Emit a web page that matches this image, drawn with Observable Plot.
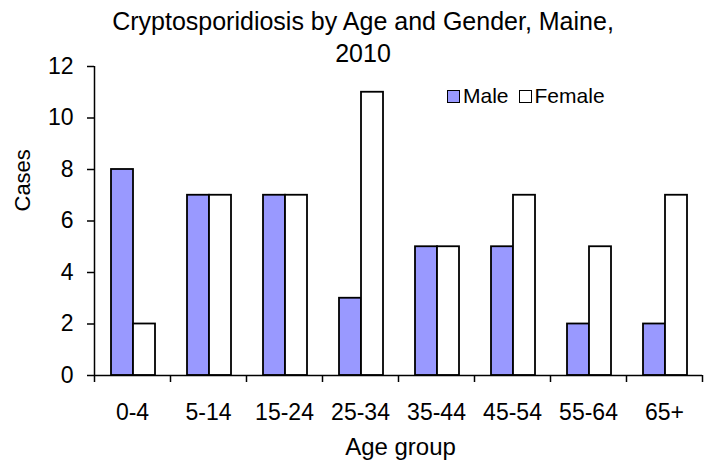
<!DOCTYPE html>
<html>
<head>
<meta charset="utf-8">
<script src="https://cdn.jsdelivr.net/npm/d3@7"></script>
<script src="https://cdn.jsdelivr.net/npm/@observablehq/plot@0.6"></script>
<style>
  html, body { margin: 0; padding: 0; background: #fff; }
  #wrap { position: relative; width: 709px; height: 464px; font-family: "Liberation Sans", Arial, sans-serif; }
  #title { position: absolute; left: 0; width: 726px; top: 5px; text-align: center; font-size: 25px; line-height: 32px; color: #000; z-index: 2; }
  #legend { position: absolute; left: 447px; top: 84px; font-size: 21px; line-height: 24px; display: flex; align-items: center; color: #000; z-index: 2; }
  .sw { width: 11px; height: 11px; border: 1.5px solid #000; display: inline-block; margin-right: 3px; }
  svg { position: absolute; left: 0; top: 0; }
</style>
</head>
<body>
<div id="wrap">
  <div id="title">Cryptosporidiosis by Age and Gender, Maine,<br>2010</div>
  <div id="legend"><span class="sw" style="background:#9999FF"></span><span style="margin-right:10px">Male</span><span class="sw" style="background:#fff"></span><span>Female</span></div>
</div>
<script>
const ageGroups = ["0-4", "5-14", "15-24", "25-34", "35-44", "45-54", "55-64", "65+"];
const maleCases = [8, 7, 7, 3, 5, 5, 2, 2];
const femaleCases = [2, 7, 7, 11, 5, 7, 5, 7];
const yTicks = [0, 2, 4, 6, 8, 10, 12];

const male = ageGroups.map((a, i) => ({age: a, cases: maleCases[i]}));
const female = ageGroups.map((a, i) => ({age: a, cases: femaleCases[i]}));

const W = 709, H = 464, ML = 94, MR = 7, MT = 66, MB = 89;
const band = (W - ML - MR) / ageGroups.length;

const plot = Plot.plot({
  width: W, height: H,
  marginLeft: ML, marginRight: MR, marginTop: MT, marginBottom: MB,
  style: {fontFamily: "Liberation Sans, Arial, sans-serif", fontSize: "23px", color: "#000", background: "transparent"},
  x: {domain: ageGroups, padding: 0, label: null},
  y: {domain: [0, 12], label: null},
  marks: [
    Plot.barY(male, {x: "age", y: "cases", fill: "#9999FF", stroke: "#000", strokeWidth: 1.8, insetLeft: 17, insetRight: band - 39}),
    Plot.barY(female, {x: "age", y: "cases", fill: "#fff", stroke: "#000", strokeWidth: 1.8, insetLeft: 39, insetRight: band - 61}),
    Plot.axisY({ticks: yTicks, tickSize: 7, tickPadding: 14, stroke: "#000", strokeWidth: 1.5, fontSize: 23, label: null}),
    Plot.ruleX([ageGroups[0]], {dx: -band / 2, y1: 0, y2: 12, stroke: "#000", strokeWidth: 1.5}),
    Plot.ruleY([0], {stroke: "#000", strokeWidth: 1.5}),
    Plot.axisX({tickSize: 7, tickFormat: () => "", dx: -band / 2, stroke: "#000", strokeWidth: 1.5, label: null}),
    Plot.axisX({ticks: [ageGroups[ageGroups.length - 1]], tickSize: 7, tickFormat: () => "", dx: band / 2, stroke: "#000", strokeWidth: 1.5, label: null}),
    Plot.axisX({tickSize: 0, tickPadding: 28, fontSize: 23, label: null}),
    Plot.text(["Age group"], {frameAnchor: "bottom", dy: 79, dx: 2, fontSize: 24}),
    Plot.text(["Cases"], {frameAnchor: "left", dx: -71.5, dy: -9.5, rotate: -90, fontSize: 22})
  ]
});
document.getElementById("wrap").appendChild(plot);
</script>
</body>
</html>
